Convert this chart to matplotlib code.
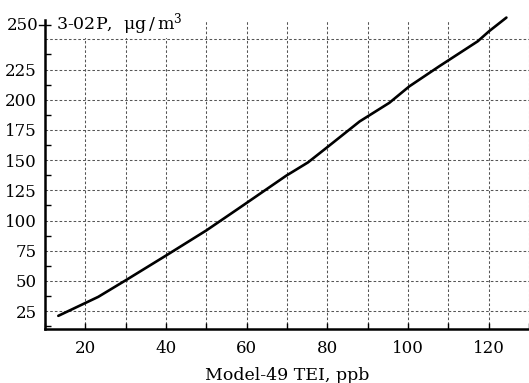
import matplotlib
matplotlib.use("Agg")
import matplotlib.pyplot as plt
import numpy as np

# Data
model49_ppb = [13.3, 23.2, 30.0, 40.1, 50.0, 58.0, 69.8, 75.2, 80.1, 88.0, 95.4, 100.3, 107.8, 117.3, 120.1, 124.4]
conc_ugm3 = [21.1, 36.8, 50.5, 71.2, 91.8, 110.0, 137.1, 148.1, 161.0, 182.0, 197.5, 211.0, 227.8, 248.4, 256.7, 268.0]

x_ticks = [10, 20, 30, 40, 50, 60, 70, 80, 90, 100, 110, 120, 130]
x_labels = ["", "20", "", "40", "", "60", "", "80", "", "100", "", "120", ""]
y_ticks = [25, 50, 75, 100, 125, 150, 175, 200, 225, 250]
y_labels = ["25", "50", "75", "100", "125", "150", "175", "200", "225", ""]
y_top_label = "250"
y_top_value = 261.5
xlabel = "Model-49 TEI, ppb"
ylabel = "3-02P,  $\\mathregular{\\mu g\\,/\\,m^{3}}$"

plt.rcParams['font.family'] = ['DejaVu Serif']
plt.rcParams['mathtext.fontset'] = 'dejavuserif'

FS = 12

fig = plt.figure(figsize=(5.29, 3.83), dpi=100)
ax = fig.add_axes([45/529, (383-329)/383, 1 - 45/529, (329-20)/383])

ax.plot(model49_ppb, conc_ugm3, color='black', lw=1.9, clip_on=False, zorder=3,
        solid_capstyle='round')

ax.set_xlim(10, 130)
ax.set_ylim(10.2, 266.0)

ax.set_xticks(x_ticks)
ax.set_xticklabels(x_labels, fontsize=FS)
ax.set_yticks(y_ticks)
ax.set_yticklabels(y_labels, fontsize=FS)
ax.set_yticks(list(np.arange(12.5, 250, 25)) + [y_top_value], minor=True)

ax.tick_params(axis='x', direction='in', length=4, width=1, pad=8)
ax.tick_params(axis='y', which='major', length=0, pad=6)
ax.tick_params(axis='y', which='minor', direction='in', length=4, width=1)

ax.grid(True, which='major', linestyle=(0, (2.5, 2.0)), color='#555555', lw=0.75)

for s in ['top', 'right']:
    ax.spines[s].set_visible(False)
for s in ['left', 'bottom']:
    ax.spines[s].set_linewidth(1.8)

ax.text(-0.014, y_top_value, y_top_label, transform=ax.get_yaxis_transform(),
        ha='right', va='center', fontsize=FS)
ax.plot([-0.012, 0], [y_top_value, y_top_value], transform=ax.get_yaxis_transform(),
        color='black', lw=1, clip_on=False)

ax.text(0.022, y_top_value + 1.5, ylabel, transform=ax.get_yaxis_transform(),
        ha='left', va='center', fontsize=12.5,
        bbox=dict(facecolor='white', edgecolor='none', pad=1.0), zorder=4)

ax.set_xlabel(xlabel, fontsize=12.5, labelpad=7)

fig.savefig("out.png", dpi=100)
